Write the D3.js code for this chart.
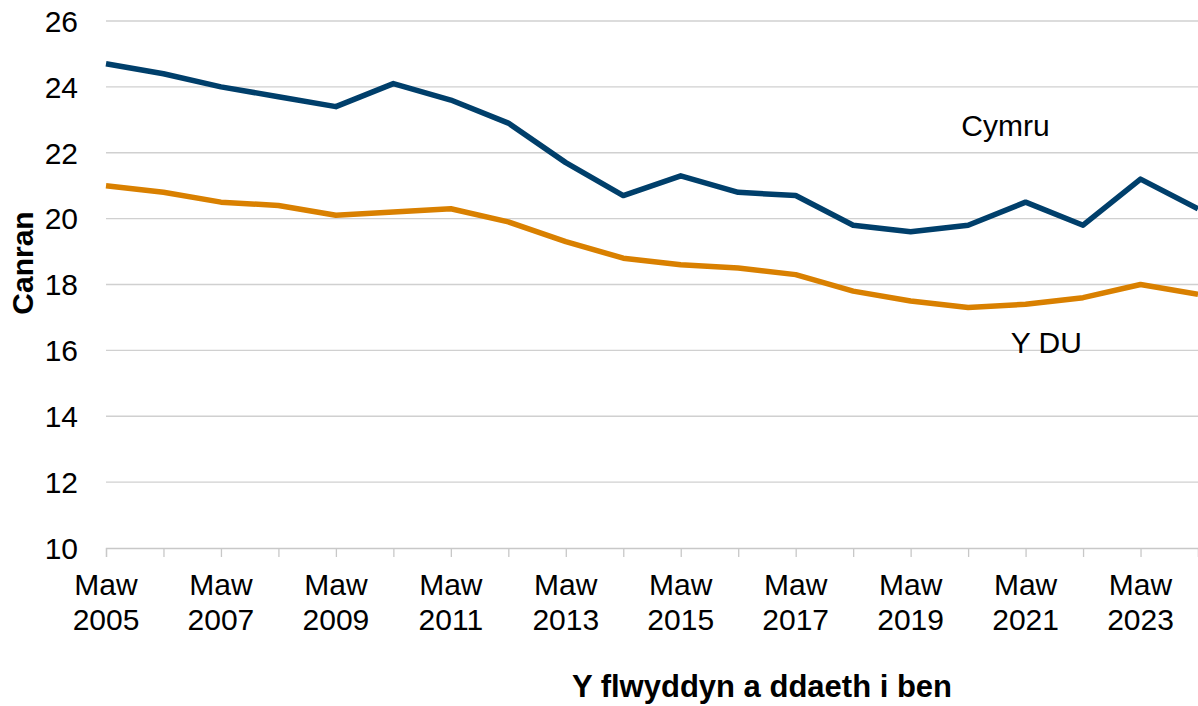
<!DOCTYPE html>
<html>
<head>
<meta charset="utf-8">
<script src="https://cdn.jsdelivr.net/npm/d3@7"></script>
<style>
  body { margin: 0; background: #fff; }
  svg { display: block; font-family: "Liberation Sans", Arial, sans-serif; }
</style>
</head>
<body>
<svg id="chart" width="1198" height="706"></svg>
<script>
// years ending March
const years = [2005, 2006, 2007, 2008, 2009, 2010, 2011, 2012, 2013, 2014,
  2015, 2016, 2017, 2018, 2019, 2020, 2021, 2022, 2023, 2024];
const cymru = [24.7, 24.4, 24.0, 23.7, 23.4, 24.1, 23.6, 22.9, 21.7, 20.7,
  21.3, 20.8, 20.7, 19.8, 19.6, 19.8, 20.5, 19.8, 21.2, 20.3];
const ydu = [21.0, 20.8, 20.5, 20.4, 20.1, 20.2, 20.3, 19.9, 19.3, 18.8,
  18.6, 18.5, 18.3, 17.8, 17.5, 17.3, 17.4, 17.6, 18.0, 17.7];
const yTicks = [10, 12, 14, 16, 18, 20, 22, 24, 26];
const labelYears = [2005, 2007, 2009, 2011, 2013, 2015, 2017, 2019, 2021, 2023];

const svg = d3.select('#chart');
const margin = { top: 21, right: 0, bottom: 158, left: 106 };
const width = 1198 - margin.left - margin.right;
const height = 706 - margin.top - margin.bottom;
const fs = 30;

const x = d3.scaleLinear().domain([2005, 2024]).range([0, width]);
const y = d3.scaleLinear().domain([10, 26]).range([height, 0]);

const g = svg.append('g')
  .attr('transform', `translate(${margin.left},${margin.top})`);

// gridlines
g.append('g')
  .selectAll('line')
  .data(yTicks.filter(d => d > 10))
  .join('line')
  .attr('x1', 0).attr('x2', width)
  .attr('y1', d => y(d)).attr('y2', d => y(d))
  .attr('stroke', '#d0d0d0').attr('stroke-width', 1.3);

// y labels
g.append('g')
  .selectAll('text')
  .data(yTicks)
  .join('text')
  .attr('x', -28)
  .attr('y', d => y(d))
  .attr('dy', '0.36em')
  .attr('text-anchor', 'end')
  .attr('font-size', fs)
  .attr('fill', '#000')
  .text(d => d);

// x axis
const xAxis = g.append('g')
  .attr('transform', `translate(0,${height})`)
  .call(d3.axisBottom(x).tickValues(years).tickSize(9).tickFormat(''));
xAxis.select('.domain').attr('stroke', '#c8c8c8').attr('stroke-width', 1.3);
xAxis.selectAll('.tick line').attr('stroke', '#c8c8c8').attr('stroke-width', 1.3);

const xl = g.append('g')
  .selectAll('text')
  .data(labelYears)
  .join('text')
  .attr('text-anchor', 'middle')
  .attr('font-size', fs)
  .attr('fill', '#000');
xl.append('tspan').attr('x', d => x(d)).attr('y', height + 47).text('Maw');
xl.append('tspan').attr('x', d => x(d)).attr('y', height + 82).text(d => d);

// lines
const line = d3.line()
  .x((d, i) => x(years[i]))
  .y(d => y(d));

g.append('path')
  .datum(ydu)
  .attr('fill', 'none')
  .attr('stroke', '#d98000')
  .attr('stroke-width', 5.5)
  .attr('stroke-linejoin', 'round')
  .attr('d', line);

g.append('path')
  .datum(cymru)
  .attr('fill', 'none')
  .attr('stroke', '#003f6b')
  .attr('stroke-width', 5.5)
  .attr('stroke-linejoin', 'round')
  .attr('d', line);

// series labels
g.append('text')
  .attr('x', x(2020.65)).attr('y', y(22.5))
  .attr('text-anchor', 'middle')
  .attr('font-size', fs)
  .text('Cymru');
g.append('text')
  .attr('x', x(2021.36)).attr('y', y(15.92))
  .attr('text-anchor', 'middle')
  .attr('font-size', fs)
  .text('Y DU');

// axis titles
svg.append('text')
  .attr('transform', `translate(33,263) rotate(-90)`)
  .attr('text-anchor', 'middle')
  .attr('font-size', fs)
  .attr('font-weight', 'bold')
  .text('Canran');

svg.append('text')
  .attr('x', 762)
  .attr('y', 697)
  .attr('text-anchor', 'middle')
  .attr('font-size', 31)
  .attr('font-weight', 'bold')
  .text('Y flwyddyn a ddaeth i ben');
</script>
</body>
</html>
